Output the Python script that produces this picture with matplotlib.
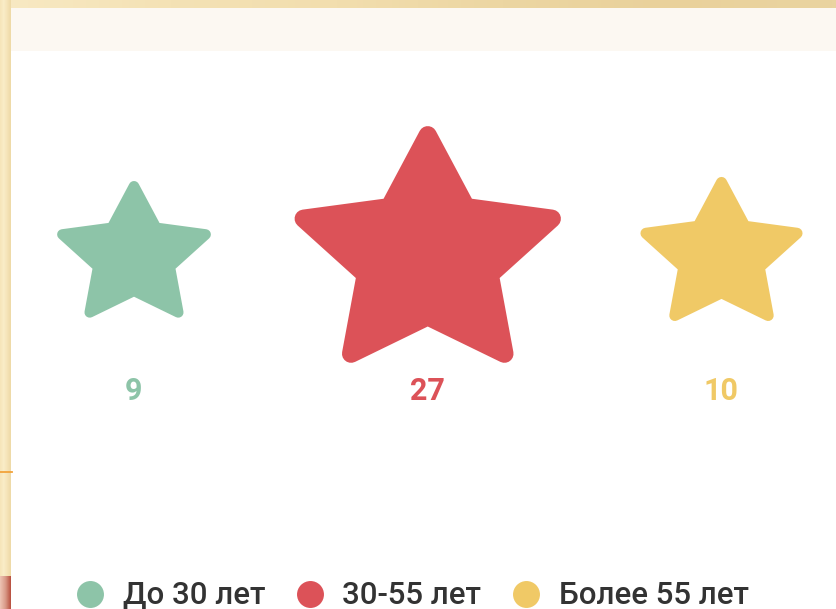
import numpy as np
import matplotlib
matplotlib.use('Agg')
import matplotlib.pyplot as plt
from matplotlib.patches import Polygon, Rectangle
from matplotlib.lines import Line2D
from matplotlib.colors import LinearSegmentedColormap

# ---- data ----
categories = ['До 30 лет', '30-55 лет', 'Более 55 лет']
values = [9, 27, 10]
colors = ['#8DC4A8', '#DC5258', '#F0C966']

W, H = 837, 609
fig = plt.figure(figsize=(W / 100, H / 100), dpi=100)
fig.patch.set_facecolor('white')

# ---- decorative slide background ----
bg = fig.add_axes([0, 0, 1, 1], zorder=0)
bg.axis('off')
gold_top = LinearSegmentedColormap.from_list(
    'gold_top', ['#F8E9C3', '#F4E2B5', '#F2DEAE', '#ECD6A2', '#E9D19B', '#EAD4A0'])
bg.imshow(np.linspace(0, 1, 256).reshape(1, -1), extent=(0, W, 8, 0),
          cmap=gold_top, aspect='auto', interpolation='bilinear')
gold_left = LinearSegmentedColormap.from_list(
    'gold_left', ['#F6E4B8', '#FAEDC8', '#F5E3B8', '#EED9A6'])
bg.imshow(np.linspace(0, 1, 64).reshape(1, -1), extent=(0, 11, 576, 0),
          cmap=gold_left, aspect='auto', interpolation='bilinear')
photo = LinearSegmentedColormap.from_list('photo', ['#EDC3B3', '#D99A88', '#B8503F'])
bg.imshow(np.linspace(0, 1, 32).reshape(1, -1), extent=(0, 11, H, 576),
          cmap=photo, aspect='auto', interpolation='bilinear')
bg.add_patch(Rectangle((11, 8), W - 11, 43, facecolor='#FCF8F2', edgecolor='none'))
bg.plot([0, 12], [472, 472], color='#F2A33A', lw=1.3)
bg.set_xlim(0, W)
bg.set_ylim(H, 0)

# ---- stars ----
ax = fig.add_axes([0, 0, 1, 1], zorder=1)
ax.axis('off')
ax.patch.set_alpha(0)
px_per_unit = 293.75
x0_px, yc_px = 134, 256
ax.set_xlim(-x0_px / px_per_unit, (W - x0_px) / px_per_unit)
ax.set_ylim(-(H - yc_px) / px_per_unit, yc_px / px_per_unit)

k = 25 / px_per_unit          # apparent radius per sqrt(value)
stretch = 1.08
round_frac = 0.07
inner_ratio = 0.50


def star_vertices(cx, cy, R):
    idx = np.arange(10)
    ang = np.pi / 2 + idx * np.pi / 5
    r = np.where(idx % 2 == 0, R, R * inner_ratio)
    return np.column_stack([cx + stretch * r * np.cos(ang), cy + r * np.sin(ang)])


for i, (v, c) in enumerate(zip(values, colors)):
    R_ext = k * np.sqrt(v)
    R_poly = R_ext * (1 - round_frac)
    lw_pt = 2 * round_frac * R_ext * px_per_unit * 0.72
    ax.add_patch(Polygon(star_vertices(i, 0, R_poly), closed=True,
                         facecolor=c, edgecolor=c, lw=lw_pt, joinstyle='round'))
    ax.text(i, -(400 - yc_px) / px_per_unit, str(v), ha='center', va='baseline',
            fontsize=22, fontweight='bold', color=c, family='Roboto')

# ---- legend ----
handles = [Line2D([], [], marker='o', ls='', markersize=19.4,
                  markerfacecolor=c, markeredgecolor='none') for c in colors]
fig.legend(handles, categories, ncol=3, loc='center',
           bbox_to_anchor=(0.493, 13 / H), frameon=False,
           prop={'family': 'Roboto', 'size': 22.5, 'weight': 'medium'},
           labelcolor='#333333',
           handlelength=0.87, handletextpad=0.6, columnspacing=1.0,
           borderpad=0, borderaxespad=0)

fig.savefig('out.png', dpi=100, facecolor='white')
